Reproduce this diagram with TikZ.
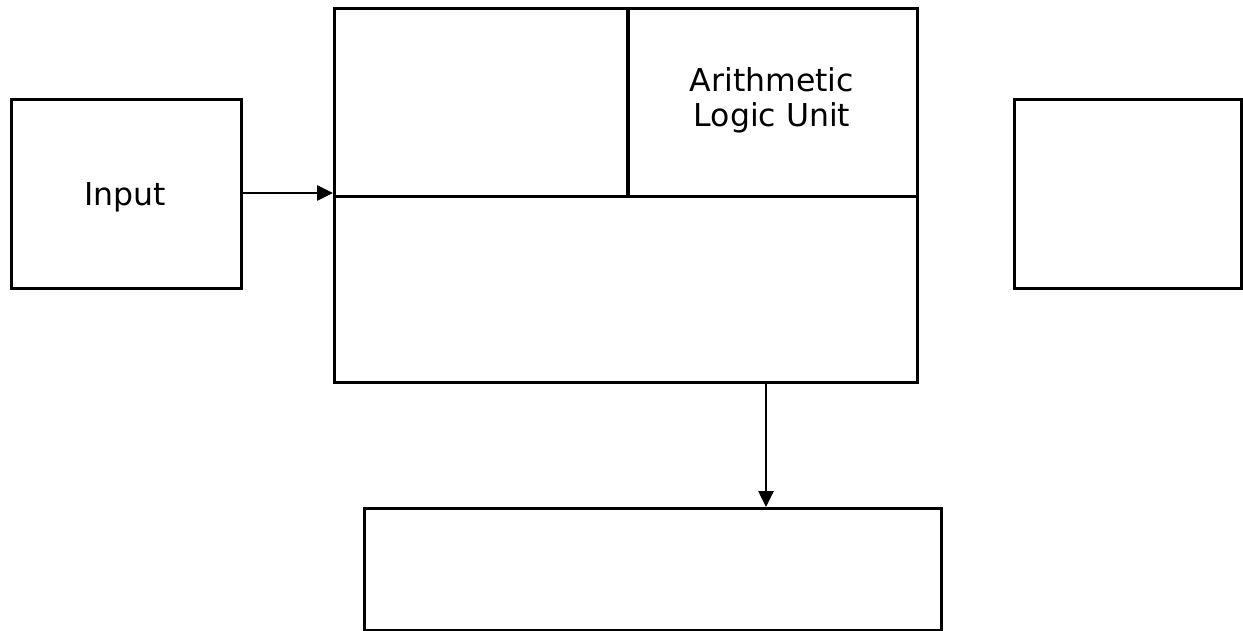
\documentclass[tikz,border=0pt]{standalone}
\usepackage{fontspec}
\setmainfont{DejaVu Sans}
\usetikzlibrary{arrows.meta}
\begin{document}
\begin{tikzpicture}[x=1pt,y=-1pt,
  box/.style={draw=black,line width=3pt,inner sep=0pt,anchor=north west},
  lbl/.style={font=\fontsize{31.5}{35}\selectfont,align=center,inner sep=0pt},
  conn/.style={line width=2.6pt,-{Triangle[length=16pt,width=15pt]}}]
\useasboundingbox (0,0) rectangle (1243,631);
\node[box,minimum width=230pt,minimum height=189pt] (input) at (10,98) {};
\node[lbl] at (125,197) {Input};
\node[box,minimum width=583pt,minimum height=374pt] (cpu) at (333,7) {};
\coordinate (cpuL) at (333,197);
\coordinate (cpuR) at (916,197);
\draw[line width=3pt] (cpuL) -- (cpuR);
\coordinate (divT) at (628,7);
\coordinate (divB) at (628,197);
\draw[line width=4pt] (divT) -- (divB);
\node[lbl] (alu) at (772,100) {Arithmetic\\Logic Unit};
\node[box,minimum width=227pt,minimum height=189pt] (output) at (1013,98) {};
\node[box,minimum width=577pt,minimum height=122pt] (memory) at (363,507) {};
\coordinate (inarr) at (333,193);
\draw[conn] (input.east |- inarr) -- (inarr);
\coordinate (downS) at (766,383);
\draw[conn] (downS) -- (downS |- memory.north);
\end{tikzpicture}
\end{document}
